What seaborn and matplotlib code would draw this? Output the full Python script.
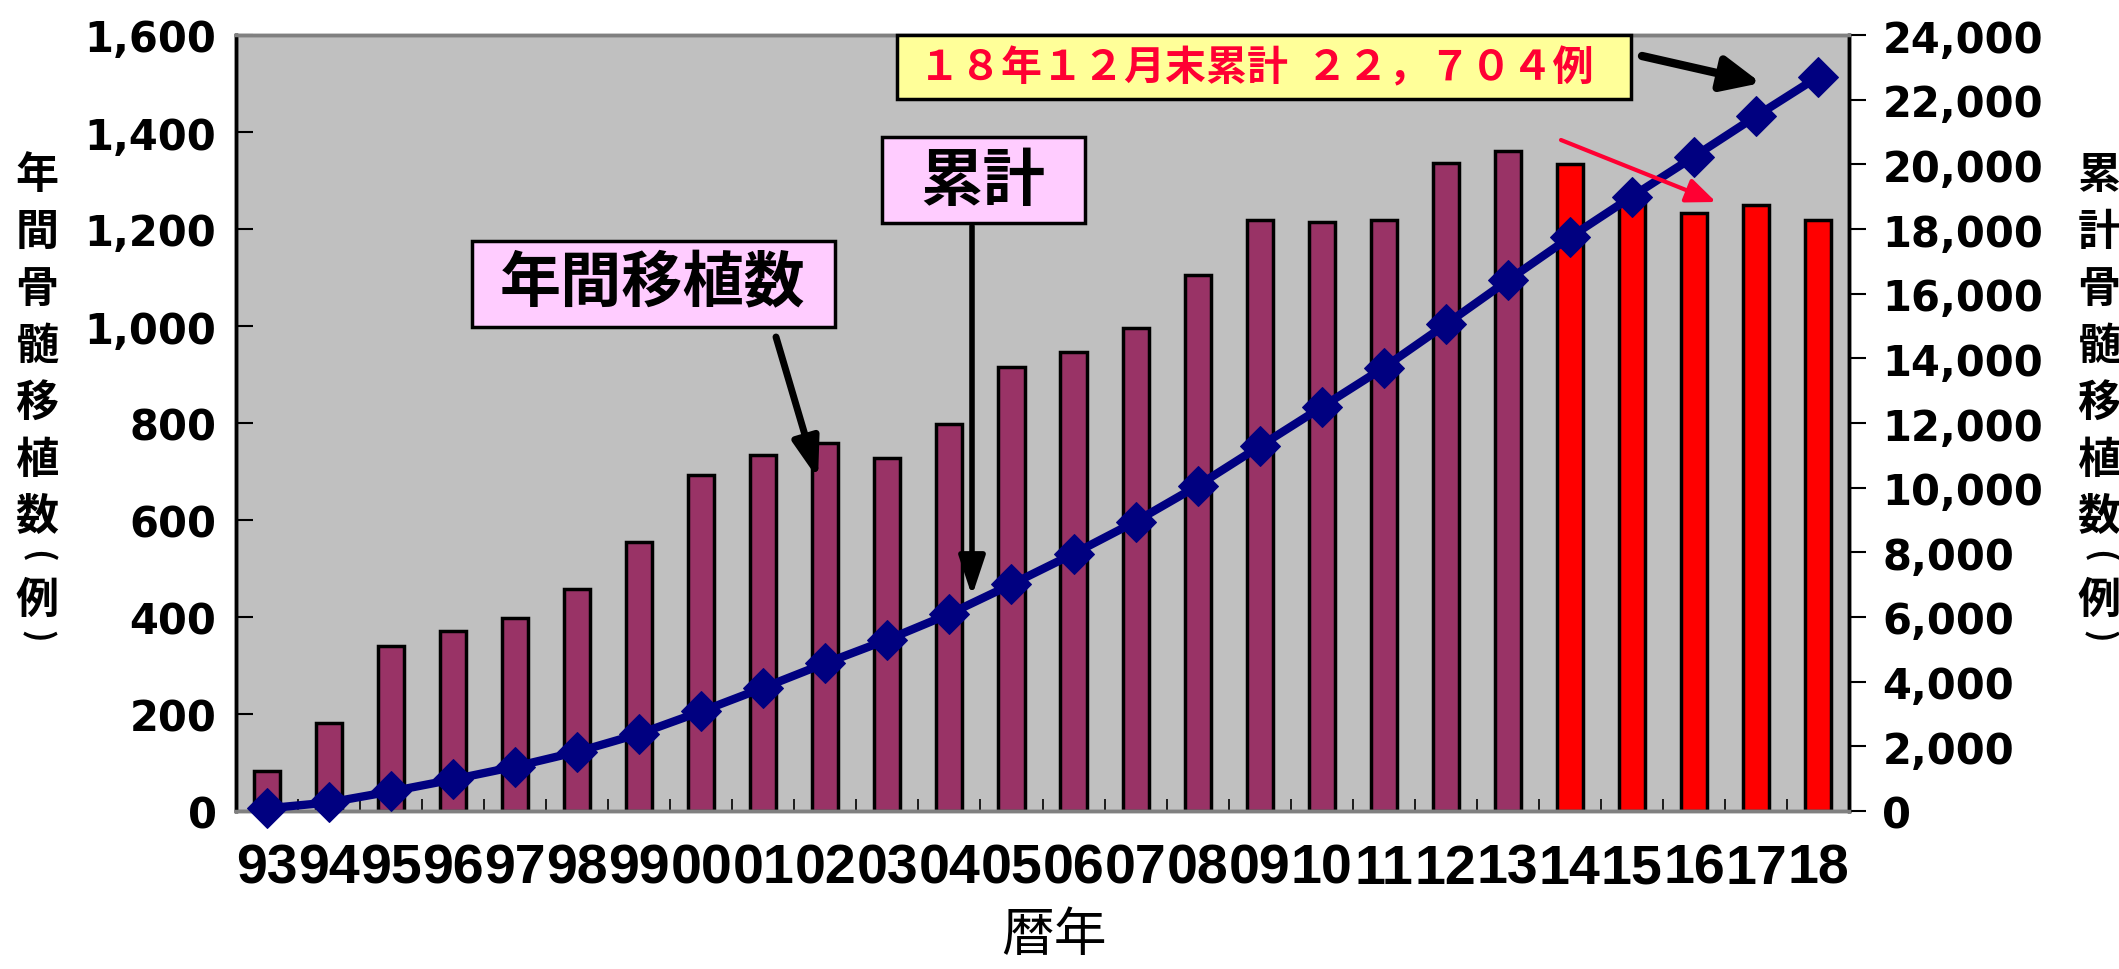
import numpy as np
import pandas as pd
import matplotlib
matplotlib.use("Agg")
import matplotlib.pyplot as plt
import seaborn as sns
from matplotlib.patches import Rectangle, FancyArrowPatch
from matplotlib.ticker import FuncFormatter, FixedLocator

# ---- data -------------------------------------------------------------
years = ["93", "94", "95", "96", "97", "98", "99", "00", "01", "02", "03", "04", "05",
         "06", "07", "08", "09", "10", "11", "12", "13", "14", "15", "16", "17", "18"]
annual = [82, 182, 341, 371, 398, 457, 555, 693, 733, 758, 727, 797, 915,
          947, 996, 1106, 1219, 1215, 1219, 1337, 1361, 1333, 1262, 1232, 1250, 1218]
cumulative = [82, 264, 605, 976, 1374, 1831, 2386, 3079, 3812, 4570, 5297, 6094, 7009,
              7956, 8952, 10058, 11277, 12492, 13711, 15048, 16409, 17742, 19004, 20236,
              21486, 22704]
left_ticks = [0, 200, 400, 600, 800, 1000, 1200, 1400, 1600]
right_ticks = [0, 2000, 4000, 6000, 8000, 10000, 12000, 14000, 16000, 18000, 20000, 22000, 24000]
recent_years = ["14", "15", "16", "17", "18"]

PURPLE = "#993366"
RED = "#FF0000"
NAVY = "#000080"
bar_colors = [RED if y in recent_years else PURPLE for y in years]

sns.set_theme(style="white")
plt.rcParams["font.family"] = ["DejaVu Sans"]
for key in ("text.color", "axes.labelcolor", "xtick.color", "ytick.color", "axes.edgecolor"):
    plt.rcParams[key] = "black"
CJK = ["Noto Sans CJK JP", "DejaVu Sans"]

W, H = 2119, 970
fig = plt.figure(figsize=(W / 100, H / 100), dpi=100)


def fx(px):
    return px / W


def fy(py):
    return 1 - py / H


ax = fig.add_axes([fx(236), fy(812), (1849 - 236) / W, (812 - 36) / H])
ax.set_facecolor("#C0C0C0")

df = pd.DataFrame({"year": years, "annual": annual, "cumulative": cumulative})

# annual transplants (bars)
sns.barplot(data=df, x="year", y="annual", hue="year", palette=bar_colors,
            legend=False, width=0.42, edgecolor="black", linewidth=2.5,
            saturation=1, ax=ax, zorder=2)
ax.set_xlim(-0.5, len(years) - 0.5)
ax.set_ylim(0, 1600)
ax.set_xlabel("")
ax.set_ylabel("")

# cumulative transplants (line on secondary axis)
ax2 = ax.twinx()
sns.lineplot(x=np.arange(len(years)), y=df["cumulative"].values, ax=ax2,
             color=NAVY, linewidth=6, marker="D", markersize=20,
             markeredgecolor=NAVY, clip_on=False, zorder=5)
ax2.set_ylim(0, 24000)
ax2.set_xlim(-0.5, len(years) - 0.5)
ax2.set_ylabel("")

# ---- axes styling -----------------------------------------------------
ax.grid(False)
ax2.grid(False)
comma = FuncFormatter(lambda v, p: f"{int(v):,}")

ax.yaxis.set_major_locator(FixedLocator(left_ticks))
ax.yaxis.set_major_formatter(comma)
ax.tick_params(axis="y", direction="in", length=12, width=1.5, color="black",
               pad=14, labelsize=30, left=True)
for lab in ax.get_yticklabels():
    lab.set_fontweight("bold")

ax2.yaxis.set_major_locator(FixedLocator(right_ticks))
ax2.yaxis.set_major_formatter(comma)
ax2.tick_params(axis="y", direction="out", length=12, width=1.5, color="black",
                pad=12, labelsize=30, right=True)
for lab in ax2.get_yticklabels():
    lab.set_fontweight("bold")

ax.set_xticks(np.arange(len(years)))
ax.set_xticklabels(years, fontfamily="Liberation Sans", fontweight="bold", fontsize=40)
ax.tick_params(axis="x", length=0, pad=23)
ax.set_xticks(np.arange(len(years) + 1) - 0.5, minor=True)
ax.tick_params(axis="x", which="minor", direction="in", length=9, width=1.2,
               color="black", bottom=True)

for a in (ax, ax2):
    a.spines["top"].set_color("#808080")
    a.spines["bottom"].set_color("#808080")
    a.spines["left"].set_color("black")
    a.spines["right"].set_color("black")
    for s in a.spines.values():
        s.set_linewidth(2.5)

# ---- axis titles --------------------------------------------------------
fig.text(fx(1054), fy(936), "暦年", fontsize=38, family=CJK, ha="center", va="center")

left_title = ["年", "間", "骨", "髄", "移", "植", "数"]
right_title = ["累", "計", "骨", "髄", "移", "植", "数"]
STEP = 57
for x0, chars in ((37, left_title), (2099, right_title)):
    for i, ch in enumerate(chars):
        fig.text(fx(x0), fy(175 + STEP * i), ch, fontsize=31, fontweight="bold",
                 family=CJK, ha="center", va="center")
    # vertical-set parentheses around 例
    fig.text(fx(x0), fy(556), "(", fontsize=24, fontweight="bold", family=CJK,
             rotation=-90, rotation_mode="anchor", ha="center", va="center")
    fig.text(fx(x0), fy(600), "例", fontsize=31, fontweight="bold",
             family=CJK, ha="center", va="center")
    fig.text(fx(x0), fy(636), ")", fontsize=24, fontweight="bold", family=CJK,
             rotation=-90, rotation_mode="anchor", ha="center", va="center")


# ---- callouts -----------------------------------------------------------
def box(x0, y0, x1, y1, face):
    fig.add_artist(Rectangle((fx(x0), fy(y1)), (x1 - x0) / W, (y1 - y0) / H,
                             transform=fig.transFigure, facecolor=face,
                             edgecolor="black", linewidth=2.5, zorder=6))


def arrow(p0, p1, color, lw, scale, head="-|>,head_length=0.6,head_width=0.2"):
    fig.add_artist(FancyArrowPatch((fx(p0[0]), fy(p0[1])), (fx(p1[0]), fy(p1[1])),
                                   transform=fig.transFigure, arrowstyle=head,
                                   mutation_scale=scale, color=color, linewidth=lw,
                                   shrinkA=0, shrinkB=0, zorder=7))


box(897, 36, 1631, 100, "#FFFF99")
fig.text(fx(1256), fy(68), "１８年１２月末累計  ２２，７０４例", fontsize=29.5,
         fontweight="bold", color="#FF0033", family=CJK, ha="center", va="center", zorder=8)

box(882, 138, 1085, 224, "#FFCCFF")
fig.text(fx(983), fy(181), "累計", fontsize=45, fontweight="bold", family=CJK,
         ha="center", va="center", zorder=8)

box(472, 242, 835, 328, "#FFCCFF")
fig.text(fx(653), fy(285), "年間移植数", fontsize=44, fontweight="bold", family=CJK,
         ha="center", va="center", zorder=8)

arrow((1642, 57), (1761, 84), "black", 6, 42, "-|>,head_length=0.55,head_width=0.25")
arrow((972, 227), (972, 597), "black", 4, 40)
arrow((776, 338), (818, 480), "black", 5, 40)
arrow((1561, 141), (1716, 203), "#FF0033", 3, 30, "-|>,head_length=0.6,head_width=0.25")

fig.savefig("out.png", dpi=100, facecolor="white")
